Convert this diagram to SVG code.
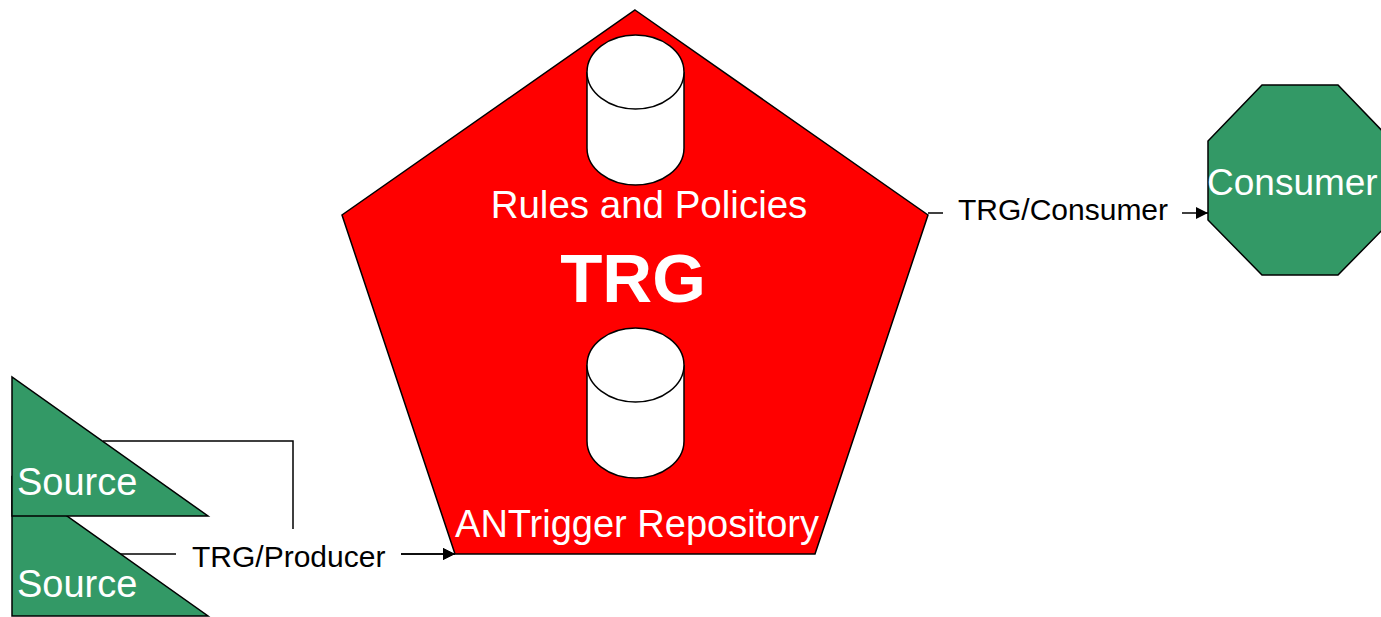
<svg xmlns="http://www.w3.org/2000/svg" width="1381" height="617" viewBox="0 0 1381 617">
<style>
.shape{stroke:#000;stroke-width:1.5;stroke-linejoin:miter}
.green{fill:#339966}
.red{fill:#FF0000}
.cyl{fill:#fff;stroke:#000;stroke-width:1.5}
.wt{fill:#fff;font-family:"Liberation Sans",Arial,sans-serif}
.lbl{fill:#000;font-family:"Liberation Sans",Arial,sans-serif;font-size:30px}
.conn{fill:none;stroke:#000;stroke-width:1.5}
</style>
<defs>
<marker id="arr" viewBox="0 0 12 12" refX="12" refY="6" markerWidth="12" markerHeight="12" markerUnits="userSpaceOnUse" orient="auto">
<path d="M0,0 L12,6 L0,12 Z" fill="#000"/>
</marker>
</defs>
<rect width="1381" height="617" fill="#fff"/>
<g id="connectors">
<path class="conn" d="M103,441 H293 V554 H455" marker-end="url(#arr)"/>
<path class="conn" d="M120,554 H455" marker-end="url(#arr)"/>
<path class="conn" d="M928,213 H1208" marker-end="url(#arr)"/>
<rect x="176" y="529" width="225" height="56" fill="#fff"/>
<text class="lbl" x="192" y="567">TRG/Producer</text>
<rect x="943" y="190" width="239" height="45" fill="#fff"/>
<text class="lbl" x="958" y="220">TRG/Consumer</text>
</g>
<g id="source2">
<polygon class="shape green" points="12,477 12,616 208,616"/>
<text class="wt" x="17" y="597" font-size="38">Source</text>
</g>
<g id="source1">
<polygon class="shape green" points="12,377 12,516 208,516"/>
<text class="wt" x="17" y="495" font-size="38">Source</text>
</g>
<g id="trg">
<polygon class="shape red" points="635,10 928,215 815,554 455,554 342,215"/>
<g id="rules-db">
<path class="cyl" d="M587,72 V148 A48.5,37 0 0 0 684,148 V72 A48.5,37 0 0 0 587,72 Z"/>
<path class="cyl" fill="none" d="M587,72 A48.5,37 0 0 0 684,72"/>
</g>
<text class="wt" x="649" y="218" font-size="38.5" text-anchor="middle">Rules and Policies</text>
<text class="wt" x="633" y="302" font-size="69" font-weight="bold" text-anchor="middle">TRG</text>
<g id="repo-db">
<path class="cyl" d="M587,365 V441 A48.5,37 0 0 0 684,441 V365 A48.5,37 0 0 0 587,365 Z"/>
<path class="cyl" fill="none" d="M587,365 A48.5,37 0 0 0 684,365"/>
</g>
<text class="wt" x="637" y="537" font-size="38" text-anchor="middle">ANTrigger Repository</text>
</g>
<g id="consumer">
<polygon class="shape green" points="1262,85 1338,85 1392,141 1392,220 1338,275 1262,275 1208,220 1208,141"/>
<text class="wt" x="1207" y="195" font-size="37">Consumer</text>
</g>
</svg>
